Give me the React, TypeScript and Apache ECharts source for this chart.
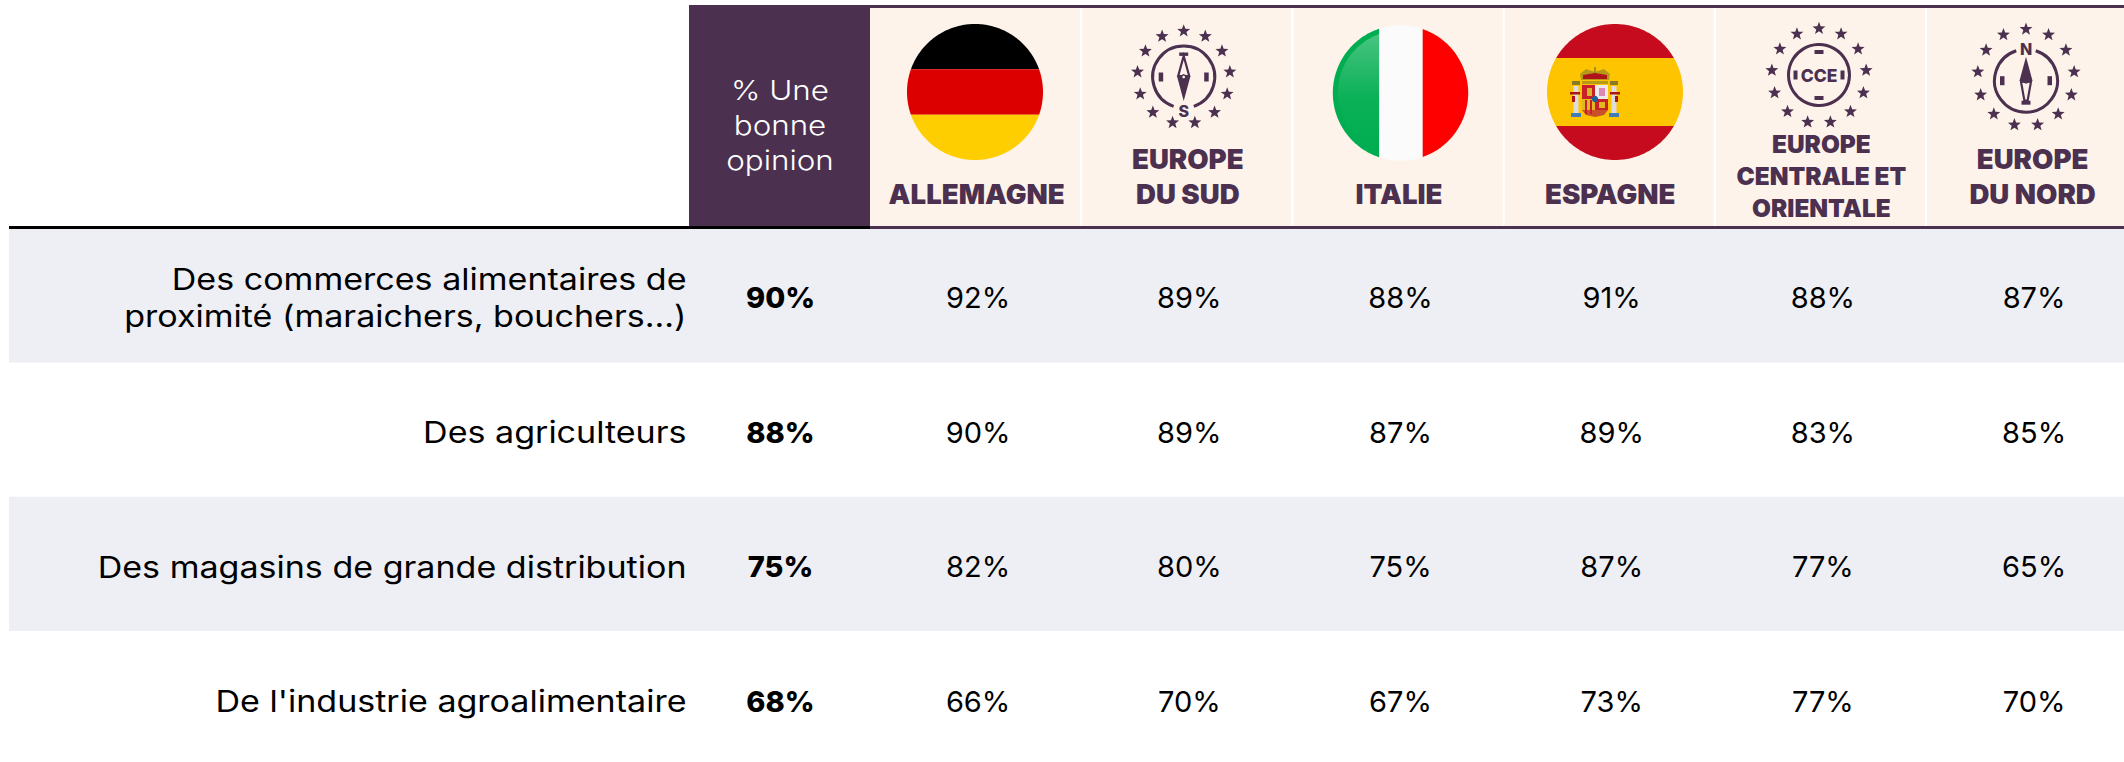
import React, { useEffect, useRef } from "react";
import * as echarts from "echarts";

const rowLabels = [
  "Des commerces alimentaires de\nproximité (maraichers, bouchers...)",
  "Des agriculteurs",
  "Des magasins de grande distribution",
  "De l'industrie agroalimentaire",
];
const overallLabel = "% Une\nbonne\nopinion";
const columns = ["ALLEMAGNE", "EUROPE\nDU SUD", "ITALIE", "ESPAGNE", "EUROPE\nCENTRALE ET\nORIENTALE", "EUROPE\nDU NORD"];
const overall = [90, 88, 75, 68];
const allemagne = [92, 90, 82, 66];
const europeSud = [89, 89, 80, 70];
const italie = [88, 87, 75, 67];
const espagne = [91, 89, 87, 73];
const europeCentrale = [88, 83, 77, 77];
const europeNord = [87, 85, 65, 70];
const columnValues = [allemagne, europeSud, italie, espagne, europeCentrale, europeNord];

const FONT = "Inter";
const DARK = "#4B3050";
const CREAM = "#FDF3EA";
const BAND = "#EEEFF4";

const COL_W = 211.2;
const COL_X0 = 870;
const colCenter = (i: number) => COL_X0 + COL_W * (i + 0.5);

function slice(cx: number, cy: number, r: number, lo: number, hi: number, vertical: boolean) {
  const a0 = Math.asin(Math.max(-1, lo / r));
  const a1 = Math.asin(Math.min(1, hi / r));
  const n = 48;
  const pts: number[][] = [];
  for (let i = 0; i <= n; i++) {
    const t = a0 + ((a1 - a0) * i) / n;
    const along = r * Math.sin(t);
    const across = r * Math.cos(t);
    pts.push(vertical ? [cx + along, cy + across] : [cx + across, cy + along]);
  }
  for (let i = n; i >= 0; i--) {
    const t = a0 + ((a1 - a0) * i) / n;
    const along = r * Math.sin(t);
    const across = r * Math.cos(t);
    pts.push(vertical ? [cx + along, cy - across] : [cx - across, cy + along]);
  }
  return pts;
}
const poly = (points: number[][], fill: any, z = 6) => ({ type: "polygon", z, shape: { points }, style: { fill } });
const rect = (x: number, y: number, width: number, height: number, fill: any, z = 5) => ({
  type: "rect",
  z,
  shape: { x, y, width, height },
  style: { fill },
});
const label = (text: string, x: number, y: number, fontSize: number, fontWeight: any, fill: string, lineHeight = 0, scaleX = 1) => ({
  type: "text",
  z: 8,
  x,
  y,
  scaleX,
  style: { text, fontFamily: FONT, fontSize, fontWeight, fill, align: "center", verticalAlign: "middle", lineHeight: lineHeight || undefined },
});
function starPoints(cx: number, cy: number, R: number) {
  const pts: number[][] = [];
  for (let i = 0; i < 10; i++) {
    const r = i % 2 ? R * 0.42 : R;
    const a = -Math.PI / 2 + (i * Math.PI) / 5;
    pts.push([cx + r * Math.cos(a), cy + r * Math.sin(a)]);
  }
  return pts;
}
function starRing(cx: number, cy: number, R: number) {
  const out: any[] = [];
  for (let i = 0; i < 13; i++) {
    const a = -Math.PI / 2 + (i * 2 * Math.PI) / 13;
    out.push(poly(starPoints(cx + R * Math.cos(a), cy + R * Math.sin(a), 6.8), DARK));
  }
  return out;
}
const ringArc = (cx: number, cy: number, r: number, startDeg: number, endDeg: number) => ({
  type: "arc",
  z: 6,
  shape: { cx, cy, r, startAngle: (startDeg * Math.PI) / 180, endAngle: (endDeg * Math.PI) / 180, clockwise: true },
  style: { stroke: DARK, fill: "none", lineWidth: 3 },
});

function southIcon(cx: number, cy: number) {
  const c = cy - 0.5;
  return [
    ...starRing(cx, cy, 46.5),
    ringArc(cx, c, 31, 109, 431),
    rect(cx - 25, c - 4.5, 4.5, 9, DARK, 6),
    rect(cx + 20.5, c - 4.5, 4.5, 9, DARK, 6),
    rect(cx - 4.5, c - 24.5, 9, 3.4, DARK, 6),
    { type: "polygon", z: 6, shape: { points: [[cx, c - 21], [cx + 5.5, c - 1], [cx - 5.5, c - 1]] }, style: { fill: "none", stroke: DARK, lineWidth: 2.2 } },
    poly([[cx - 6.5, c], [cx, c - 3], [cx + 6.5, c], [cx, c + 24]], DARK),
    { type: "circle", z: 7, shape: { cx, cy: c, r: 1.3 }, style: { fill: CREAM } },
    label("S", cx, cy + 33, 16, 800, DARK),
  ];
}
function northIcon(cx: number, cy: number) {
  const c = cy + 3;
  return [
    ...starRing(cx, cy, 48.5),
    ringArc(cx, c, 31.5, -72, 252),
    rect(cx - 26, c - 4.5, 4.5, 9, DARK, 6),
    rect(cx + 21.5, c - 4.5, 4.5, 9, DARK, 6),
    label("N", cx, cy - 29, 16, 800, DARK),
    poly([[cx, c - 24], [cx + 6.5, c], [cx, c + 3], [cx - 6.5, c]], DARK),
    { type: "polygon", z: 6, shape: { points: [[cx - 5, c + 1], [cx + 5, c + 1], [cx + 1.6, c + 20], [cx - 1.6, c + 20]] }, style: { fill: "none", stroke: DARK, lineWidth: 2.2 } },
    rect(cx - 4.5, c + 20, 9, 4, DARK, 6),
  ];
}
function cceIcon(cx: number, cy: number) {
  const c = cy - 1;
  return [
    ...starRing(cx, cy, 47.5),
    { type: "circle", z: 6, shape: { cx, cy: c, r: 30.5 }, style: { fill: "none", stroke: DARK, lineWidth: 3 } },
    rect(cx - 4.5, c - 25, 9, 4, DARK, 6),
    rect(cx - 4.5, c + 21, 9, 4, DARK, 6),
    rect(cx - 25.5, c - 4.5, 4, 9, DARK, 6),
    rect(cx + 21.5, c - 4.5, 4, 9, DARK, 6),
    label("CCE", cx, c + 0.5, 17.5, 800, DARK),
  ];
}
function germany(cx: number, cy: number, r: number) {
  const t = r / 3;
  return [
    poly(slice(cx, cy, r, -r, -t, false), "#000000"),
    poly(slice(cx, cy, r, -t, t, false), "#DD0000"),
    poly(slice(cx, cy, r, t, r, false), "#FFCE00"),
  ];
}
function italy(cx: number, cy: number, r: number) {
  const gloss = new echarts.graphic.LinearGradient(0, 0, 0, 1, [
    { offset: 0, color: "rgba(255,255,255,0.28)" },
    { offset: 0.55, color: "rgba(255,255,255,0.04)" },
    { offset: 1, color: "rgba(255,255,255,0)" },
  ]);
  return [
    poly(slice(cx, cy, r, -r, -21.2, true), "#00AD50"),
    poly(slice(cx, cy, r - 5, -(r - 5), -21.2, true), gloss, 7),
    poly(slice(cx, cy, r, -21.2, 22.2, true), "#FBFBFB"),
    poly(slice(cx, cy, r, 22.2, r, true), "#FF0000"),
  ];
}
function spain(cx: number, cy: number, r: number) {
  const s = r / 2;
  const ax = cx - 20;
  const shieldTop = cy - 7;
  return [
    poly(slice(cx, cy, r, -r, -s, false), "#C60B1E"),
    poly(slice(cx, cy, r, -s, s, false), "#FFC400"),
    poly(slice(cx, cy, r, s, r, false), "#C60B1E"),
    poly([[ax - 14, cy - 12], [ax - 15, cy - 18], [ax - 9, cy - 23], [ax, cy - 20], [ax + 9, cy - 23], [ax + 15, cy - 18], [ax + 14, cy - 12]], "#B59A1A", 7),
    poly([[ax - 12, cy - 13], [ax - 12, cy - 17], [ax, cy - 19], [ax + 12, cy - 17], [ax + 12, cy - 13]], "#AD1519", 7),
    rect(ax - 0.8, cy - 25, 1.6, 6, "#8E8A2A", 7),
    rect(ax - 13, cy - 11, 26, 3, "#B59A1A", 7),
    rect(ax - 21.5, cy - 6, 5, 29, "#DDDDDD", 7),
    rect(ax + 16.5, cy - 6, 5, 29, "#DDDDDD", 7),
    rect(ax - 23, cy - 11, 8, 4, "#8A7A22", 7),
    rect(ax + 15, cy - 11, 8, 4, "#8A7A22", 7),
    rect(ax - 24, cy + 21, 10, 4, "#3F7CB8", 7),
    rect(ax + 14, cy + 21, 10, 4, "#3F7CB8", 7),
    rect(ax - 25, cy + 0, 10, 2.5, "#AD1519", 7),
    rect(ax + 15, cy + 0, 10, 2.5, "#AD1519", 7),
    rect(ax - 23, cy + 4, 3, 6, "#AD1519", 7),
    rect(ax + 20, cy + 4, 3, 6, "#AD1519", 7),
    rect(ax - 13, shieldTop, 13, 14, "#C8202A", 7),
    rect(ax, shieldTop, 13, 14, "#EFEAEA", 7),
    rect(ax - 13, shieldTop + 14, 13, 11, "#E2B81F", 7),
    rect(ax, shieldTop + 14, 13, 11, "#C8202A", 7),
    poly([[ax - 13, shieldTop + 25], [ax + 13, shieldTop + 25], [ax + 9, shieldTop + 30], [ax, shieldTop + 32], [ax - 9, shieldTop + 30]], "#C8502A", 7),
    rect(ax - 8, shieldTop + 3, 5, 8, "#D9B52A", 8),
    rect(ax + 4, shieldTop + 3, 6, 8, "#DD88B0", 8),
    rect(ax - 10, shieldTop + 15, 2, 14, "#C8202A", 8),
    rect(ax - 5, shieldTop + 15, 2, 14, "#C8202A", 8),
    rect(ax + 4, shieldTop + 17, 6, 6, "#E2B81F", 8),
    { type: "circle", z: 9, shape: { cx: ax, cy: shieldTop + 14, r: 3.2 }, style: { fill: "#1F5FA0" } },
  ];
}

function headerGraphics() {
  const els: any[] = [];
  els.push(rect(689, 5, COL_X0 - 689, 224, DARK, 4));
  columns.forEach((_, i) => {
    els.push(rect(COL_X0 + COL_W * i + (i ? 1 : 0), 8, COL_W - (i ? 2 : 1), 218, CREAM, 4));
  });
  els.push(rect(689, 5, 2124 - 689, 3, DARK, 6));
  els.push(rect(COL_X0, 226, 2124 - COL_X0, 3, DARK, 6));
  els.push(rect(9, 226, COL_X0 - 9, 3, "#000000", 6));
  els.push(label(overallLabel, 780, 124.5, 27.5, 300, "#FFFFFF", 35, 1.14));
  els.push(...germany(975, 92, 68));
  els.push(...southIcon(1183.7, 77.5));
  els.push(...italy(1400.5, 93, 67.7));
  els.push(...spain(1615, 92, 68));
  els.push(...cceIcon(1819, 76));
  els.push(...northIcon(2026, 77.7));
  const layout = [
    { y: 194, size: 27.6, lh: 35 },
    { y: 176.5, size: 27.6, lh: 35 },
    { y: 194, size: 27.6, lh: 35 },
    { y: 194, size: 27.6, lh: 35 },
    { y: 176, size: 24.4, lh: 32 },
    { y: 176.5, size: 27.6, lh: 35 },
  ];
  columns.forEach((c, i) => {
    els.push(label(c, colCenter(i) + 1, layout[i].y, layout[i].size, 900, DARK, layout[i].lh));
  });
  return els;
}

const BAND_TOP = 228.5;
const BAND_H = 536.6;
const TEXT_TOP = 230.5;
const TEXT_H = 538;

export default function App() {
  const ref = useRef<HTMLDivElement>(null);
  useEffect(() => {
    document.body.style.margin = "0";
    const chart = echarts.init(ref.current!, undefined, { renderer: "svg" });
    const hidden = { axisLine: { show: false }, axisTick: { show: false }, axisLabel: { show: false }, splitLine: { show: false } };
    const overallData = overall.map((v, r) => [0, r, v]);
    const countryData = columnValues.flatMap((vals, c) => vals.map((v, r) => [c, r, v]));
    chart.setOption({
      animation: false,
      backgroundColor: "#FFFFFF",
      grid: [
        { left: 9, top: BAND_TOP, width: 2115, height: BAND_H, outerBoundsMode: "none" },
        { left: 690, top: TEXT_TOP, width: 181, height: TEXT_H, outerBoundsMode: "none" },
        { left: COL_X0 + 2.5, top: TEXT_TOP, width: COL_W * 6, height: TEXT_H, outerBoundsMode: "none" },
      ],
      xAxis: [
        { gridIndex: 0, type: "value", min: 0, max: 1, ...hidden },
        { gridIndex: 1, type: "category", data: ["Une bonne opinion"], ...hidden },
        { gridIndex: 2, type: "category", data: columns, ...hidden },
      ],
      yAxis: [
        {
          gridIndex: 0,
          type: "category",
          inverse: true,
          data: rowLabels,
          ...hidden,
          splitArea: { show: true, interval: 0, areaStyle: { color: [BAND, "#FFFFFF"] } },
        },
        { gridIndex: 1, type: "category", inverse: true, data: rowLabels, ...hidden },
        { gridIndex: 2, type: "category", inverse: true, data: rowLabels, ...hidden },
      ],
      series: [
        {
          type: "custom",
          xAxisIndex: 1,
          yAxisIndex: 1,
          silent: true,
          clip: false,
          data: rowLabels.map((_, r) => [0, r]),
          encode: { x: 0, y: 1 },
          renderItem: (params: any, api: any) => {
            const pt = api.coord([api.value(0), api.value(1)]);
            const halfCol = api.size([1, 0])[0] / 2;
            return {
              type: "text",
              x: pt[0] - halfCol - 3.5,
              y: pt[1],
              scaleX: 1.135,
              style: {
                text: rowLabels[params.dataIndex],
                fontFamily: FONT,
                fontSize: 30,
                fontWeight: 400,
                fill: "#000000",
                align: "right",
                verticalAlign: "middle",
                lineHeight: 38,
              },
            };
          },
        },
        {
          type: "scatter",
          xAxisIndex: 1,
          yAxisIndex: 1,
          symbolSize: 0,
          data: overallData,
          silent: true,
          itemStyle: { opacity: 1 },
          label: {
            show: true,
            position: "inside",
            formatter: (p: any) => `${p.value[2]}%`,
            fontFamily: FONT,
            fontSize: 29,
            fontWeight: 800,
            color: "#000000",
          },
        },
        {
          type: "scatter",
          xAxisIndex: 2,
          yAxisIndex: 2,
          symbolSize: 0,
          data: countryData,
          silent: true,
          itemStyle: { opacity: 1 },
          label: {
            show: true,
            position: "inside",
            formatter: (p: any) => `${p.value[2]}%`,
            fontFamily: FONT,
            fontSize: 29,
            fontWeight: 400,
            color: "#000000",
          },
        },
      ],
      graphic: { elements: headerGraphics() },
    });
    return () => chart.dispose();
  }, []);
  return <div ref={ref} style={{ width: 2124, height: 762 }} />;
}
